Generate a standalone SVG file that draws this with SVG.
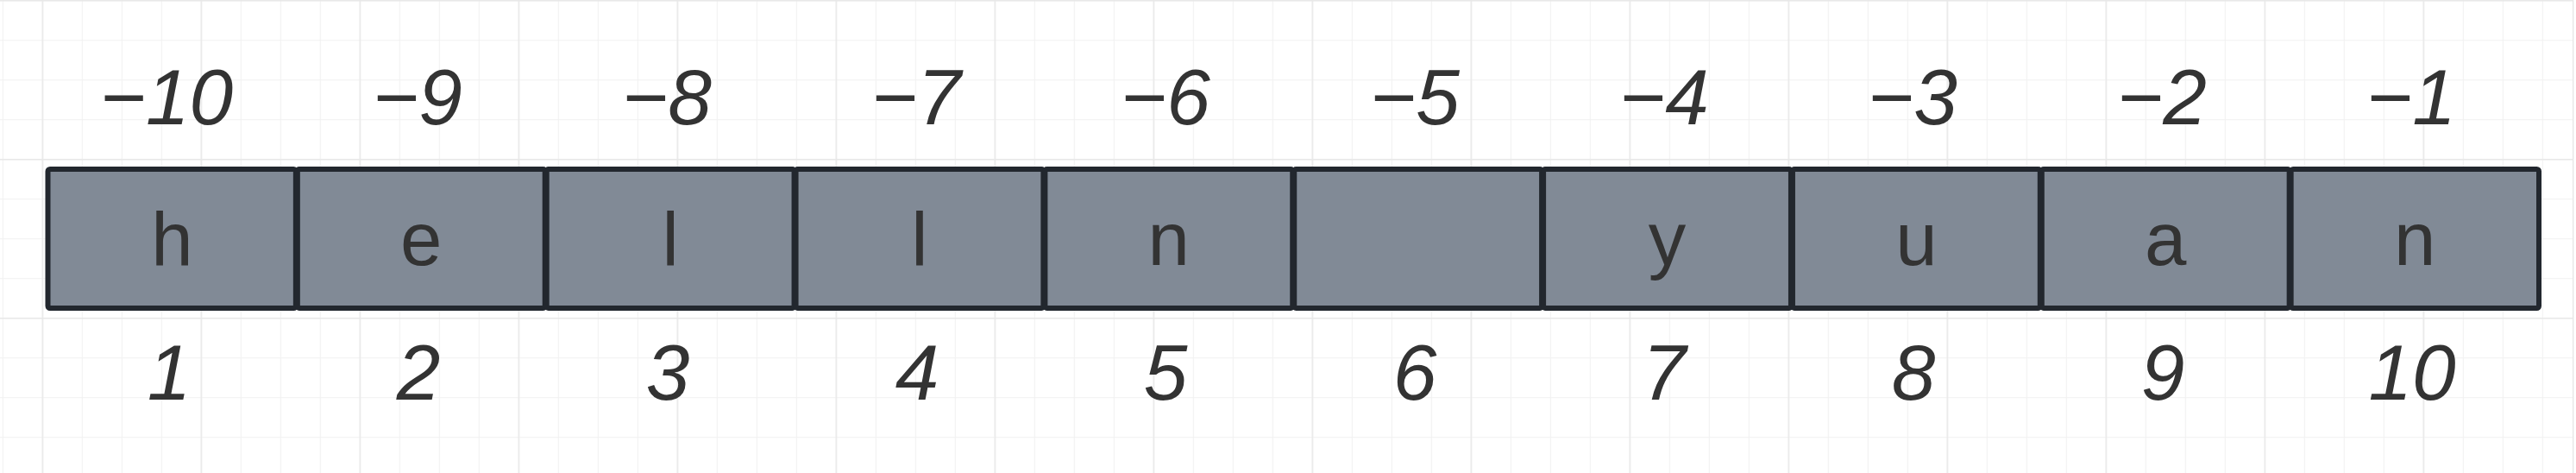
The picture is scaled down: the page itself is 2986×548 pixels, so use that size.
<svg xmlns="http://www.w3.org/2000/svg" width="2986" height="548" viewBox="0 0 2986 548">
<style>
.cell{fill:#818a96;stroke:#22272e;stroke-width:6}
.ch{font-family:"Liberation Sans",Arial,sans-serif;font-size:87px;fill:#333333;text-anchor:middle}
.idx{font-family:"Liberation Sans",Arial,sans-serif;font-size:91px;font-style:italic;fill:#333333;text-anchor:middle}
</style>
<defs>
<pattern id="minor" x="2.8" y="0.2" width="46" height="46" patternUnits="userSpaceOnUse">
<path d="M0.5 0V46M0 0.5H46" stroke="#f1f1f1" stroke-width="1.2" fill="none"/>
</pattern>
<pattern id="major" x="48.6" y="0" width="184" height="184" patternUnits="userSpaceOnUse">
<path d="M0.7 0V184M0 0.7H184" stroke="#e8e8e8" stroke-width="1.5" fill="none"/>
</pattern>
</defs>
<rect x="0" y="0" width="2986" height="548" fill="#ffffff"/>
<g id="grid">
<rect x="0" y="0" width="2982" height="548" fill="url(#minor)"/>
<rect x="0" y="0" width="2982" height="548" fill="url(#major)"/>
<line x1="2982.7" y1="0" x2="2982.7" y2="548" stroke="#e4e4e4" stroke-width="1.2"/>
</g>
<g id="connectors"></g>
<g id="cell1"><rect class="cell" x="55.5" y="196" width="287.35" height="161" rx="2.5"/><text class="ch" x="199.4" y="307">h</text></g>
<g id="cell2"><rect class="cell" x="344.85" y="196" width="286.85" height="161" rx="2"/><text class="ch" x="488.3" y="307">e</text></g>
<g id="cell3"><rect class="cell" x="633.7" y="196" width="286.85" height="161" rx="2"/><text class="ch" x="777.1" y="307">l</text></g>
<g id="cell4"><rect class="cell" x="922.55" y="196" width="286.85" height="161" rx="2"/><text class="ch" x="1066" y="307">l</text></g>
<g id="cell5"><rect class="cell" x="1211.4" y="196" width="286.85" height="161" rx="2"/><text class="ch" x="1354.8" y="307">n</text></g>
<g id="cell6"><rect class="cell" x="1500.25" y="196" width="286.85" height="161" rx="2"/></g>
<g id="cell7"><rect class="cell" x="1789.1" y="196" width="286.85" height="161" rx="2"/><text class="ch" x="1932.5" y="307">y</text></g>
<g id="cell8"><rect class="cell" x="2077.95" y="196" width="286.85" height="161" rx="2"/><text class="ch" x="2221.4" y="307">u</text></g>
<g id="cell9"><rect class="cell" x="2366.8" y="196" width="286.85" height="161" rx="2"/><text class="ch" x="2510.2" y="307">a</text></g>
<g id="cell10"><rect class="cell" x="2655.65" y="196" width="287.35" height="161" rx="2.5"/><text class="ch" x="2799.1" y="307">n</text></g>
<g id="neg-labels">
<text class="idx" x="193" y="144">−10</text>
<text class="idx" x="484" y="144">−9</text>
<text class="idx" x="773" y="144">−8</text>
<text class="idx" x="1062" y="144">−7</text>
<text class="idx" x="1351" y="144">−6</text>
<text class="idx" x="1640" y="144">−5</text>
<text class="idx" x="1929" y="144">−4</text>
<text class="idx" x="2217" y="144">−3</text>
<text class="idx" x="2506" y="144">−2</text>
<text class="idx" x="2795" y="144">−1</text>
</g>
<g id="pos-labels">
<text class="idx" x="196" y="463">1</text>
<text class="idx" x="485" y="463">2</text>
<text class="idx" x="774" y="463">3</text>
<text class="idx" x="1063" y="463">4</text>
<text class="idx" x="1351" y="463">5</text>
<text class="idx" x="1640" y="463">6</text>
<text class="idx" x="1929" y="463">7</text>
<text class="idx" x="2218" y="463">8</text>
<text class="idx" x="2507" y="463">9</text>
<text class="idx" x="2796" y="463">10</text>
</g>
</svg>
